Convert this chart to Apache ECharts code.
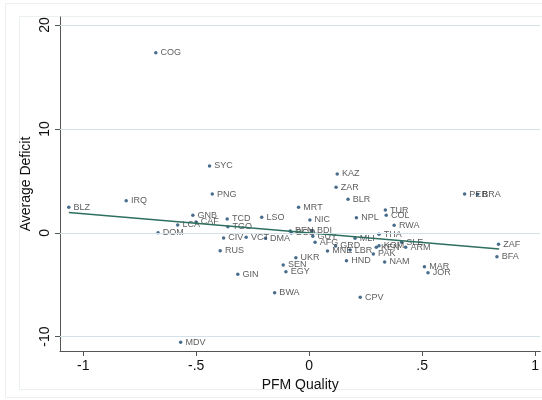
<!DOCTYPE html>
<html>
<head>
<meta charset="utf-8">
<script src="https://cdn.jsdelivr.net/npm/echarts@6/dist/echarts.min.js"></script>
<style>
  html, body { margin: 0; padding: 0; background: #fff; }
  #chart { width: 542px; height: 400px; }
</style>
</head>
<body>
<div id="chart"></div>
<script>
// country codes, PFM quality (x) and average deficit (y)
var codes = ['COG','SYC','PNG','BLZ','IRQ','GNB','CAF','LCA','DOM','TCD','TGO','LSO','CIV','VCT','DMA','RUS','GIN','SEN','EGY','UKR','BWA','MDV',
  'KAZ','ZAR','BLR','MRT','NIC','NPL','TUR','COL','RWA','THA','PER','BRA','ZAF','BFA','SLE','ARM','MAR','JOR','NAM','PAK','HND','MLI','CPV',
  'AFG','MNE','GRD','LBR','KEN','KOM','BEN','BGD','BDI','GUY'];
var pfm = [-0.679,-0.441,-0.429,-1.064,-0.810,-0.515,-0.501,-0.582,-0.669,-0.363,-0.360,-0.210,-0.379,-0.279,-0.194,-0.394,-0.316,-0.115,-0.103,-0.059,-0.153,-0.569,
  0.124,0.119,0.172,-0.047,0.003,0.209,0.337,0.341,0.376,0.309,0.688,0.745,0.838,0.831,0.409,0.427,0.510,0.526,0.334,0.284,0.165,0.203,0.226,
  0.026,0.081,0.117,0.181,0.297,0.309,-0.084,-0.079,0.013,0.016];
var deficit = [17.33,6.43,3.73,2.45,3.09,1.68,1.04,0.75,0.01,1.33,0.59,1.49,-0.50,-0.43,-0.53,-1.72,-3.99,-3.10,-3.74,-2.40,-5.77,-10.54,
  5.66,4.38,3.22,2.45,1.23,1.45,2.19,1.68,0.72,-0.14,3.73,3.71,-1.11,-2.30,-0.91,-1.40,-3.26,-3.84,-2.81,-2.04,-2.69,-0.53,-6.21,
  -0.91,-1.75,-1.27,-1.66,-1.40,-1.24,0.17,-0.02,0.17,-0.34];

// fitted line end points
var fitX = [-1.064, 0.841];
var fitY = [1.94, -1.56];

var xTicks = [-1, -0.5, 0, 0.5, 1];
var yTicks = [-10, 0, 10, 20];

function fmt(v) {
  var s = String(v);
  return s.replace('0.', '.');
}

var points = codes.map(function (c, i) { return { name: c, value: [pfm[i], deficit[i]] }; });
var fitLine = fitX.map(function (x, i) { return [x, fitY[i]]; });

var myChart = echarts.init(document.getElementById('chart'));

var option = {
  backgroundColor: '#fff',
  animation: false,
  textStyle: { fontFamily: 'Liberation Sans, Arial, sans-serif' },
  graphic: [
    { type: 'rect', shape: { x: 5.5, y: 3.5, width: 540, height: 394 }, style: { fill: null, stroke: '#eaf0f0', lineWidth: 1 }, z: -10 },
    { type: 'rect', shape: { x: 19.5, y: 16.5, width: 530, height: 373 }, style: { fill: null, stroke: '#eaf0f0', lineWidth: 1 }, z: -10 }
  ],
  grid: { left: 60, right: 0, top: 17, bottom: 49 },
  xAxis: {
    type: 'value',
    min: -1.103,
    max: 1.023,
    name: 'PFM Quality',
    nameLocation: 'middle',
    nameGap: 22,
    nameTextStyle: { fontSize: 14, color: '#111' },
    axisLine: { onZero: false, lineStyle: { color: '#555', width: 1 } },
    axisTick: { show: true, length: 5, customValues: xTicks, lineStyle: { color: '#555' } },
    axisLabel: { customValues: xTicks, formatter: fmt, fontSize: 14, color: '#111', margin: 8 },
    splitLine: { show: false }
  },
  yAxis: {
    type: 'value',
    min: -11.38,
    max: 20.77,
    name: 'Average Deficit',
    nameLocation: 'middle',
    nameGap: 27,
    nameMoveOverlap: false,
    nameRotate: 90,
    nameTextStyle: { fontSize: 14, color: '#111' },
    axisLine: { show: true, onZero: false, lineStyle: { color: '#555', width: 1 } },
    axisTick: { show: true, length: 5, customValues: yTicks, lineStyle: { color: '#555' } },
    axisLabel: { customValues: yTicks, rotate: 90, fontSize: 14, color: '#111', margin: 8 },
    splitLine: { show: false }
  },
  series: [
    {
      type: 'line',
      data: yTicks.map(function (t) { return [xTicks[0], t]; }),
      symbol: 'none',
      lineStyle: { opacity: 0 },
      silent: true,
      markLine: {
        silent: true,
        symbol: 'none',
        label: { show: false },
        lineStyle: { color: '#d3e2e8', width: 1, type: 'solid' },
        data: yTicks.map(function (t) { return { yAxis: t }; })
      },
      z: 0
    },
    {
      type: 'scatter',
      data: points,
      symbol: 'circle',
      symbolSize: 3.5,
      itemStyle: { color: '#1a476f' },
      label: {
        show: true,
        position: 'right',
        distance: 3,
        formatter: '{b}',
        fontSize: 9,
        color: '#333'
      },
      z: 3
    },
    {
      type: 'line',
      data: fitLine,
      symbol: 'none',
      lineStyle: { color: '#2e6f60', width: 1.5 },
      z: 4
    }
  ]
};

myChart.setOption(option);
</script>
</body>
</html>
